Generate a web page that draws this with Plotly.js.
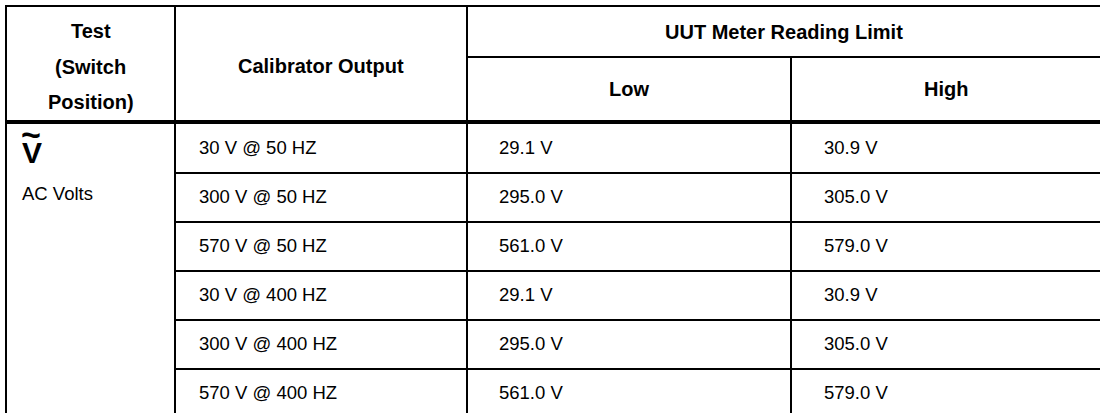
<!DOCTYPE html>
<html>
<head>
<meta charset="utf-8">
<script src="https://cdn.plot.ly/plotly-3.0.1.min.js"></script>
<style>html,body{margin:0;padding:0;background:#fff;}#chart{width:1100px;height:413px;}</style>
</head>
<body>
<div id="chart"></div>
<script>
// ---- data ----
const testHeader = ["Test", "(Switch", "Position)"];
const calibratorHeader = "Calibrator Output";
const limitHeader = "UUT Meter Reading Limit";
const limitSubHeaders = ["Low", "High"];
const switchSymbol = "V";
const switchTilde = "~";
const switchLabel = "AC Volts";
const calibratorOutput = ["30 V @ 50 HZ", "300 V @ 50 HZ", "570 V @ 50 HZ", "30 V @ 400 HZ", "300 V @ 400 HZ", "570 V @ 400 HZ"];
const lowLimit = ["29.1 V", "295.0 V", "561.0 V", "29.1 V", "295.0 V", "561.0 V"];
const highLimit = ["30.9 V", "305.0 V", "579.0 V", "30.9 V", "305.0 V", "579.0 V"];

// ---- layout geometry (table grid in axis units) ----
const W = 1100, H = 413;
const colEdges = [6, 175, 467, 791, 1101];
const topY = 6, subHeaderY = 57, headerBottomY = 122;
const bodyTop = 124, rowH = 49;
const padLeft = [14, 22, 30, 31];
const black = "#000";
const font = "Liberation Sans, Arial, Helvetica, sans-serif";
const headSize = 20, bodySize = 18.5;

const shapes = [];
function line(x0, y0, x1, y1, w) {
  shapes.push({type: "line", xref: "x", yref: "y", x0, y0, x1, y1, line: {color: black, width: w}});
}
// outer top & left
line(colEdges[0] - 1, topY, W, topY, 2);
line(colEdges[0], topY, colEdges[0], H, 2);
// column dividers
line(colEdges[1], topY, colEdges[1], H, 2);
line(colEdges[2], topY, colEdges[2], H, 2);
line(colEdges[3], subHeaderY, colEdges[3], H, 2);
// header lines
line(colEdges[2], subHeaderY, W, subHeaderY, 2);
line(colEdges[0] - 1, headerBottomY, W, headerBottomY, 4);
// body row lines (first column is a merged cell)
for (let k = 1; k < calibratorOutput.length; k++) {
  const y = bodyTop + rowH * k;
  line(colEdges[1], y, W, y, 2);
}

const annotations = [];
function txt(text, x, y, opts) {
  annotations.push(Object.assign({
    xref: "x", yref: "y", x, y, text, showarrow: false,
    xanchor: "center", yanchor: "middle",
    font: {family: font, size: bodySize, color: black}
  }, opts || {}));
}
const bold = {family: font, size: headSize, color: black, weight: "bold"};
// header texts
const testLineY = [31, 67, 102];
testHeader.forEach((t, i) => txt("<b>" + t + "</b>", (colEdges[0] + colEdges[1]) / 2, testLineY[i], {font: bold}));
txt("<b>" + calibratorHeader + "</b>", (colEdges[1] + colEdges[2]) / 2, 66, {font: bold});
txt("<b>" + limitHeader + "</b>", (colEdges[2] + colEdges[4]) / 2, 32, {font: bold});
txt("<b>" + limitSubHeaders[0] + "</b>", (colEdges[2] + colEdges[3]) / 2, 89, {font: bold});
txt("<b>" + limitSubHeaders[1] + "</b>", (colEdges[3] + colEdges[4]) / 2, 89, {font: bold});

// switch position cell
txt("<b>" + switchSymbol + "</b>", colEdges[0] + padLeft[0], 152, {xanchor: "left", font: {family: font, size: 30, color: black, weight: "bold"}});
txt("<b>" + switchTilde + "</b>", colEdges[0] + padLeft[0] - 1, 134, {xanchor: "left", font: {family: font, size: 34, color: black, weight: "bold"}});
txt(switchLabel, colEdges[0] + padLeft[0], 193, {xanchor: "left"});

// body cells
const bodyCols = [calibratorOutput, lowLimit, highLimit];
bodyCols.forEach((col, c) => {
  col.forEach((v, r) => {
    txt(v, colEdges[c + 1] + padLeft[c + 1], bodyTop + rowH * (r + 0.5) - 1, {xanchor: "left"});
  });
});

const layout = {
  width: W, height: H,
  margin: {l: 0, r: 0, t: 0, b: 0, pad: 0},
  paper_bgcolor: "#fff", plot_bgcolor: "#fff",
  xaxis: {range: [0, W], visible: false, fixedrange: true},
  yaxis: {range: [H, 0], visible: false, fixedrange: true},
  showlegend: false,
  shapes, annotations
};
Plotly.newPlot("chart", [], layout, {staticPlot: true, displayModeBar: false});
</script>
</body>
</html>
